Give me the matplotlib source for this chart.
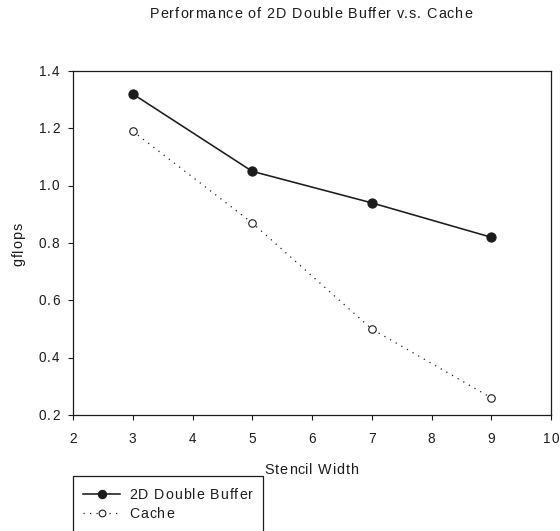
import matplotlib
matplotlib.use("Agg")
import matplotlib.pyplot as plt
from matplotlib.lines import Line2D
from matplotlib.font_manager import FontProperties

plt.rcParams['font.family'] = ['Liberation Sans', 'DejaVu Sans']

stencil_width = [3, 5, 7, 9]
double_buffer = [1.32, 1.05, 0.94, 0.82]
cache = [1.19, 0.87, 0.50, 0.26]

x_ticks = [2, 3, 4, 5, 6, 7, 8, 9, 10]
y_ticks = [0.2, 0.4, 0.6, 0.8, 1.0, 1.2, 1.4]
x_tick_labels = [str(v) for v in x_ticks]
y_tick_labels = [f"{v:.1f}" for v in y_ticks]

title = 'Performance of 2D Double Buffer v.s. Cache'
x_label = 'Stencil Width'
y_label = 'gflops'
series_names = ['2D Double Buffer', 'Cache']

INK = '#1c1c1c'
W, H = 560, 531
fig = plt.figure(figsize=(W / 100, H / 100), dpi=100)
ax = fig.add_axes([73 / W, 1 - 415 / H, (551 - 73) / W, (415 - 71) / H])

solid_style = dict(color=INK, lw=1.15, ls='-', marker='o', ms=6.6,
                   mfc=INK, mec=INK, mew=0.8)
dotted_style = dict(color=INK, lw=0.9, ls=(0, (1, 4.2)), marker='o', ms=5.4,
                    mfc='white', mec=INK, mew=0.8)

ax.plot(stencil_width, double_buffer, **solid_style)
ax.plot(stencil_width, cache, **dotted_style)

ax.set_xlim(2, 10)
ax.set_ylim(0.2, 1.4)
ax.set_xticks(x_ticks)
ax.set_yticks(y_ticks)
ax.set_xticklabels([])
ax.set_yticklabels([])
ax.tick_params(direction='out', length=3.8, width=0.8, color=INK)
for s in ax.spines.values():
    s.set_linewidth(0.9)
    s.set_color(INK)

renderer = fig.canvas.get_renderer()


def spaced_text(s, x, y, size, width=None, track=1.0, align='center', rot=0):
    """Draw text with extra letter spacing; x, y in pixels from the top-left,
    y is the baseline (or the baseline column for rotated text)."""
    prop = FontProperties(family='Liberation Sans', size=size)

    def w(t):
        return renderer.get_text_width_height_descent(t, prop, ismath=False)[0]

    lefts = [w(s[:i + 1]) - w(ch) if ch != ' ' else 0 for i, ch in enumerate(s)]
    natural = w(s)
    n = len(s)
    if width is not None and n > 1:
        track = (width - natural) / (n - 1)
    total = natural + (n - 1) * track
    if align == 'center':
        start = -total / 2
    elif align == 'right':
        start = -total
    else:
        start = 0
    for i, ch in enumerate(s):
        if ch == ' ':
            continue
        off = start + lefts[i] + i * track
        if rot == 0:
            px, py = x + off, y
        else:
            px, py = x, y - off
        fig.text(px / W, 1 - py / H, ch, fontproperties=prop, color=INK,
                 ha='left', va='baseline', rotation=rot, rotation_mode='anchor')


def to_px(xv, yv):
    dx, dy = ax.transData.transform((xv, yv))
    return dx, H - dy


# tick labels
for v, lab in zip(x_ticks, x_tick_labels):
    px, _ = to_px(v, 0.2)
    spaced_text(lab, px, 443, 9.8, track=1.0)
for v, lab in zip(y_ticks, y_tick_labels):
    _, py = to_px(2, v)
    spaced_text(lab, 59.5, py + 4.6, 9.8, track=1.1, align='right')

# title and axis labels
spaced_text(title, 311, 18, 10.4, width=322)
spaced_text(x_label, 311.5, 474.5, 10.4, width=94)
spaced_text(y_label, 22.5, 244.5, 10.4, width=43, rot=90)

# legend box (runs off the bottom edge)
frame_x = [73 / W, 73 / W, 263 / W, 263 / W]
frame_y = [-0.05, 1 - 476 / H, 1 - 476 / H, -0.05]
fig.add_artist(Line2D(frame_x, frame_y, color=INK, lw=0.9,
                      transform=fig.transFigure))

for (row_y, style, name) in [(494, solid_style, series_names[0]),
                             (512.5, dotted_style, series_names[1])]:
    line_style = {k: v for k, v in style.items() if not k.startswith('m')}
    fig.add_artist(Line2D([83 / W, 120 / W], [1 - row_y / H] * 2,
                          transform=fig.transFigure, **line_style))
    fig.add_artist(Line2D([101.5 / W], [1 - row_y / H], ls='none',
                          transform=fig.transFigure, marker='o',
                          ms=style['ms'] * 0.9, mfc=style['mfc'],
                          mec=style['mec'], mew=style['mew']))
    spaced_text(name, 129, row_y + 5, 10.2, width=124 if len(name) > 5 else None,
                track=1.0, align='left')

fig.savefig('out.png', dpi=100)
